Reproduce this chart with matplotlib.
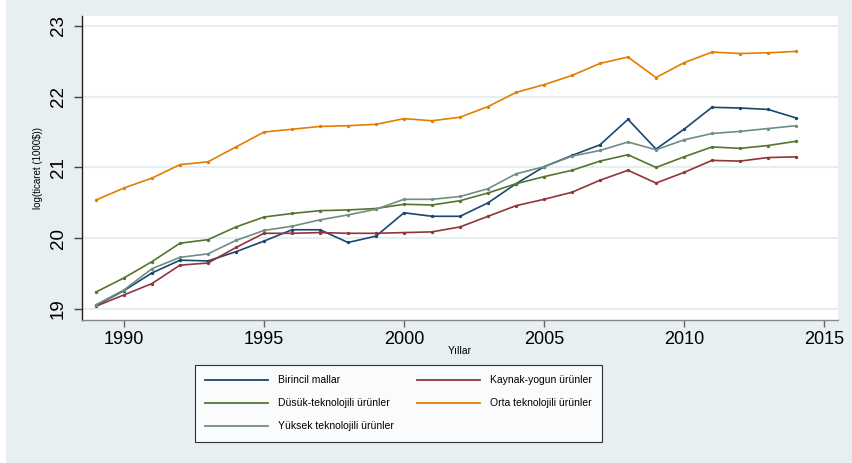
import numpy as np
import matplotlib
matplotlib.use("Agg")
import matplotlib.pyplot as plt
from matplotlib.patches import Rectangle

years = list(range(1989, 2015))

birincil = [19.05, 19.26, 19.51, 19.69, 19.68, 19.81, 19.96, 20.12, 20.12, 19.94,
            20.03, 20.36, 20.31, 20.31, 20.50, 20.77, 21.01, 21.17, 21.32, 21.68,
            21.26, 21.54, 21.85, 21.84, 21.82, 21.70]
kaynak = [19.04, 19.20, 19.36, 19.62, 19.65, 19.87, 20.07, 20.07, 20.08, 20.07,
          20.07, 20.08, 20.09, 20.16, 20.31, 20.46, 20.55, 20.65, 20.82, 20.96,
          20.78, 20.93, 21.10, 21.09, 21.14, 21.15]
dusuk = [19.24, 19.44, 19.67, 19.93, 19.98, 20.16, 20.30, 20.35, 20.39, 20.40,
         20.42, 20.48, 20.47, 20.53, 20.64, 20.77, 20.87, 20.96, 21.09, 21.18,
         21.00, 21.15, 21.29, 21.27, 21.31, 21.37]
orta = [20.54, 20.71, 20.85, 21.04, 21.08, 21.29, 21.50, 21.54, 21.58, 21.59,
        21.61, 21.69, 21.66, 21.71, 21.86, 22.06, 22.17, 22.30, 22.47, 22.56,
        22.27, 22.48, 22.63, 22.61, 22.62, 22.64]
yuksek = [19.06, 19.27, 19.57, 19.73, 19.78, 19.97, 20.11, 20.17, 20.26, 20.33,
          20.41, 20.55, 20.55, 20.59, 20.70, 20.91, 21.01, 21.16, 21.24, 21.36,
          21.25, 21.39, 21.48, 21.51, 21.55, 21.59]

series = [
    ("Birincil mallar", birincil, "#1a476f"),
    ("Kaynak-yogun ürünler", kaynak, "#90353b"),
    ("Düsük-teknolojili ürünler", dusuk, "#55752f"),
    ("Orta teknolojili ürünler", orta, "#e37e00"),
    ("Yüksek teknolojili ürünler", yuksek, "#6e8e84"),
]

bg = "#e8eff1"
plt.rcParams['font.family'] = ['Liberation Sans', 'DejaVu Sans']

W, H = 853, 463
fig = plt.figure(figsize=(W / 100, H / 100), dpi=100, facecolor=bg)
# thin white strip on the left edge
fig.patches.append(Rectangle((0, 0), 6 / W, 1, transform=fig.transFigure,
                             facecolor="white", edgecolor="none", zorder=-1))

ax = fig.add_axes([82 / W, 1 - 320 / H, (838 - 82) / W, (320 - 16) / H])
ax.set_facecolor("white")

handles = {}
for name, vals, col in series:
    h, = ax.plot(years, vals, color=col, lw=1.2, marker="o", markersize=1.4,
                 label=name, zorder=3)
    handles[name] = h

ax.set_xlim(1988.5, 2015.5)
ax.set_ylim(18.845, 23.14)
ax.set_xticks(range(1990, 2016, 5))
ax.set_yticks([19, 20, 21, 22, 23])
ax.grid(axis="y", color="#e6eef0", lw=1.5, zorder=0)
ax.grid(axis="x", visible=False)

for s in ["top", "right"]:
    ax.spines[s].set_visible(False)
ax.spines["left"].set_color("#222222")
ax.spines["bottom"].set_color("#888888")
ax.spines["left"].set_linewidth(1.0)
ax.spines["bottom"].set_linewidth(1.0)

ax.tick_params(axis="y", length=6, width=1, color="#444444", labelsize=13.5,
               pad=5, labelrotation=90)
ax.tick_params(axis="x", length=5, width=1, color="#666666", labelsize=13, pad=3)
for lab in ax.get_yticklabels():
    lab.set_verticalalignment("center")

fig.text(38 / W, 1 - 168 / H, "log(ticaret (1000$))", rotation=90,
         ha="center", va="center", fontsize=7)
fig.text(460 / W, 1 - 351 / H, "Yıllar", ha="center", va="center", fontsize=7.5)

order = ["Birincil mallar", "Düsük-teknolojili ürünler", "Yüksek teknolojili ürünler",
         "Kaynak-yogun ürünler", "Orta teknolojili ürünler"]
hl = []
for n in order:
    l = plt.Line2D([], [], color=handles[n].get_color(), lw=1.3)
    hl.append(l)
leg = fig.legend(hl, order, ncol=2, loc="upper left",
                 bbox_to_anchor=(195 / W, 1 - 365 / H), borderaxespad=0,
                 fontsize=7.5, frameon=True, fancybox=False, edgecolor="black",
                 handlelength=6.0, handletextpad=1.0, columnspacing=2.2,
                 labelspacing=1.25, borderpad=1.0)
leg.get_frame().set_linewidth(0.8)
leg.get_frame().set_facecolor("white")

fig.savefig("out.png", dpi=100, facecolor=bg)
